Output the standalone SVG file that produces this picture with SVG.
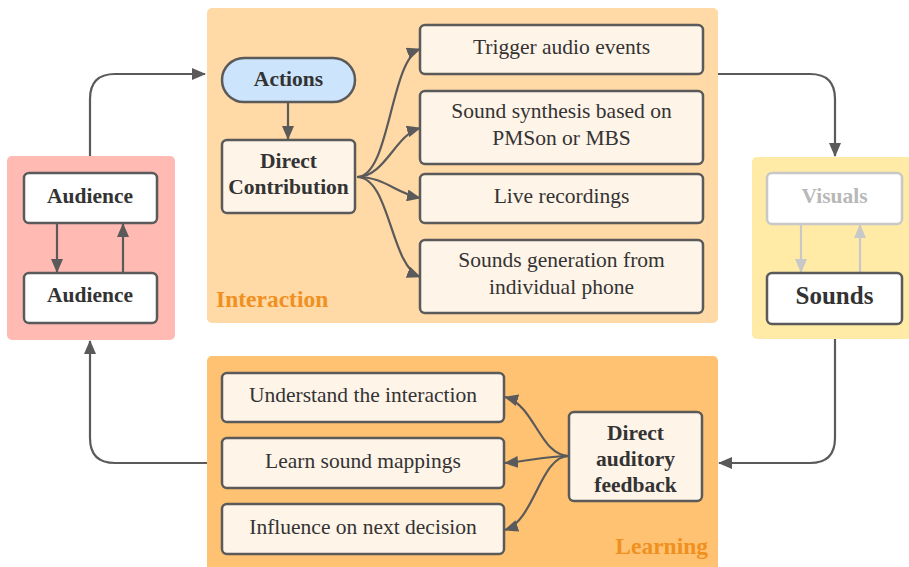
<svg xmlns="http://www.w3.org/2000/svg" width="909" height="567" viewBox="0 0 909 567">
<style>
.t{font-family:"Liberation Serif","Times New Roman",serif;font-size:21.5px;fill:#333;text-anchor:middle}
.b{font-weight:bold}
.box{fill:#fff4e8;stroke:#5a5a5a;stroke-width:2.5}
.wbox{fill:#fff;stroke:#5a5a5a;stroke-width:2.5}
.c{fill:none;stroke:#5a5a5a;stroke-width:2.2}
.g{fill:none;stroke:#c8c8c8;stroke-width:2.2}
.lab{font-family:"Liberation Serif","Times New Roman",serif;font-size:23.5px;font-weight:bold;fill:#f0901e}
</style>
<defs>
<marker id="ah" markerUnits="userSpaceOnUse" markerWidth="14" markerHeight="12" refX="13" refY="6" orient="auto"><path d="M0,0 L14,6 L0,12 Z" fill="#5a5a5a"/></marker>
<marker id="ag" markerUnits="userSpaceOnUse" markerWidth="14" markerHeight="12" refX="13" refY="6" orient="auto"><path d="M0,0 L14,6 L0,12 Z" fill="#c8c8c8"/></marker>
</defs>
<g id="group-audience"><rect x="7" y="156" width="168" height="184" rx="5" fill="#ffbab3"/></g>
<g id="group-interaction"><rect x="207" y="8" width="511" height="315" rx="5" fill="#ffd9a6"/><text class="lab" x="216" y="307">Interaction</text></g>
<g id="group-sounds"><rect x="752" y="157" width="160" height="182" rx="5" fill="#ffeaa6"/></g>
<g id="group-learning"><rect x="207" y="356" width="511" height="215" rx="5" fill="#ffc272"/><text class="lab" x="708" y="554" text-anchor="end">Learning</text></g>
<g id="connectors">
<path class="c" d="M90,156 V99 Q90,74 115,74 H205" marker-end="url(#ah)"/>
<path class="c" d="M718,74 H810 Q835,74 835,99 V156" marker-end="url(#ah)"/>
<path class="c" d="M835,339 V438 Q835,463 810,463 H719" marker-end="url(#ah)"/>
<path class="c" d="M207,463 H115 Q90,463 90,438 V341" marker-end="url(#ah)"/>
<path class="c" d="M57,223 V272" marker-end="url(#ah)"/>
<path class="c" d="M123,272 V224" marker-end="url(#ah)"/>
<path class="g" d="M801,224 V272" marker-end="url(#ag)"/>
<path class="g" d="M860,272 V225" marker-end="url(#ag)"/>
<path class="c" d="M288,102 V139" marker-end="url(#ah)"/>
<path class="c" d="M357,177 C390,177 390,60 420,49" marker-end="url(#ah)"/>
<path class="c" d="M357,177 C385,177 395,135 420,128" marker-end="url(#ah)"/>
<path class="c" d="M357,177 C385,177 395,193 420,198" marker-end="url(#ah)"/>
<path class="c" d="M357,177 C390,177 390,265 420,277" marker-end="url(#ah)"/>
<path class="c" d="M569,456 C540,456 535,405 505,397" marker-end="url(#ah)"/>
<path class="c" d="M569,456 C545,456 530,461 505,463" marker-end="url(#ah)"/>
<path class="c" d="M569,456 C540,456 535,520 505,530" marker-end="url(#ah)"/>
</g>
<g id="node-audience-top"><rect class="wbox" x="24" y="173" width="133" height="50" rx="5"/><text class="t b" x="90" y="203">Audience</text></g>
<g id="node-audience-bottom"><rect class="wbox" x="24" y="273" width="133" height="50" rx="5"/><text class="t b" x="90" y="302">Audience</text></g>
<g id="node-actions"><rect x="222" y="58" width="133" height="44" rx="22" fill="#cce4fc" stroke="#5a5a5a" stroke-width="2.5"/><text class="t b" x="288.5" y="86">Actions</text></g>
<g id="node-direct-contribution"><rect class="box" x="222" y="140" width="133" height="73" rx="5"/><text class="t b" x="288.5" y="168">Direct</text><text class="t b" x="288.5" y="194">Contribution</text></g>
<g id="node-trigger"><rect class="box" x="420" y="25" width="283" height="49" rx="5"/><text class="t" x="561.5" y="54">Trigger audio events</text></g>
<g id="node-synthesis"><rect class="box" x="420" y="91" width="283" height="73" rx="5"/><text class="t" x="561.5" y="118">Sound synthesis based on</text><text class="t" x="561.5" y="145">PMSon or MBS</text></g>
<g id="node-live"><rect class="box" x="420" y="174" width="283" height="49" rx="5"/><text class="t" x="561.5" y="203">Live recordings</text></g>
<g id="node-phone"><rect class="box" x="420" y="240" width="283" height="73" rx="5"/><text class="t" x="561.5" y="267">Sounds generation from</text><text class="t" x="561.5" y="294">individual phone</text></g>
<g id="node-visuals"><rect x="767" y="173" width="135" height="51" rx="5" fill="#fff" stroke="#c8c8c8" stroke-width="2.5"/><text class="t b" x="834.5" y="203" style="fill:#b8b8b8">Visuals</text></g>
<g id="node-sounds"><rect class="wbox" x="767" y="273" width="135" height="51" rx="5"/><text class="t b" x="834.5" y="304" style="font-size:25px">Sounds</text></g>
<g id="node-understand"><rect class="box" x="222" y="373" width="282" height="49" rx="5"/><text class="t" x="363" y="402">Understand the interaction</text></g>
<g id="node-learn"><rect class="box" x="222" y="438" width="282" height="50" rx="5"/><text class="t" x="363" y="468">Learn sound mappings</text></g>
<g id="node-influence"><rect class="box" x="222" y="504" width="282" height="50" rx="5"/><text class="t" x="363" y="534">Influence on next decision</text></g>
<g id="node-feedback"><rect class="box" x="569" y="412" width="133" height="89" rx="5"/><text class="t b" x="635.5" y="440">Direct</text><text class="t b" x="635.5" y="466">auditory</text><text class="t b" x="635.5" y="492">feedback</text></g>
</svg>
